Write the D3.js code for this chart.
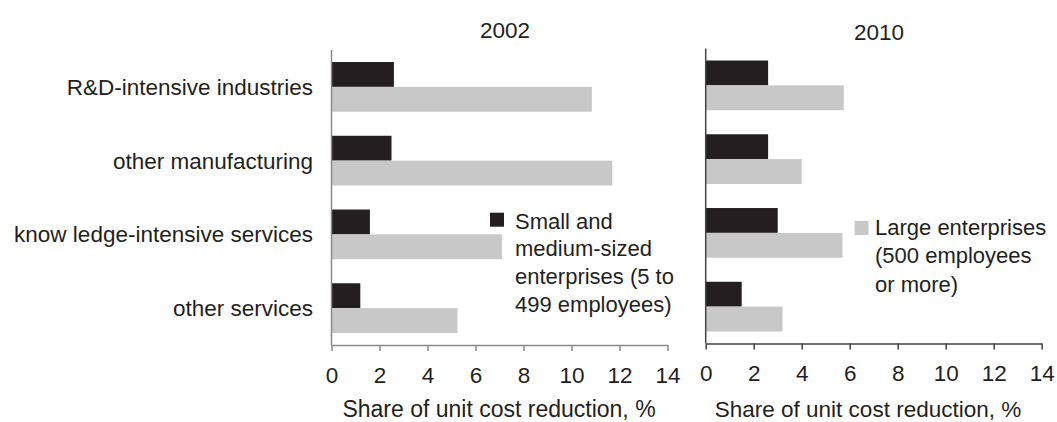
<!DOCTYPE html>
<html>
<head>
<meta charset="utf-8">
<script src="https://cdn.jsdelivr.net/npm/d3@7"></script>
<style>
  html, body { margin: 0; padding: 0; background: #fff; }
  svg { display: block; }
  text { font-family: "Liberation Sans", Arial, sans-serif; fill: #231f20; }
</style>
</head>
<body>
<svg id="chart" width="1057" height="422"></svg>
<script>
// ---- data ----
const categories = ["R&D-intensive industries", "other manufacturing", "know ledge-intensive services", "other services"];
const years = ["2002", "2010"];
const smeValues2002 = [2.6, 2.5, 1.6, 1.2];
const largeValues2002 = [10.85, 11.7, 7.1, 5.25];
const smeValues2010 = [2.6, 2.6, 3.0, 1.5];
const largeValues2010 = [5.75, 4.0, 5.7, 3.2];
const xTicks = [0, 2, 4, 6, 8, 10, 12, 14];
const seriesKeys = ["sme", "large"];
const legendSme = ["Small and", "medium-sized", "enterprises (5 to", "499 employees)"];
const legendLarge = ["Large enterprises", "(500 employees", "or more)"];
const axisTitle = "Share of unit cost reduction, %";

const colors = { sme: "#231f20", large: "#c8c8c9" };
const FS = 22.5;

const svg = d3.select("#chart");

const panels = [
  { year: years[0], sme: smeValues2002, large: largeValues2002, x0: 331.5, x1: 667.5, y0: 50, y1: 345, axisColor: "#8a8a8a", titleX: 505, titleY: 38, axTitleX: 499, axTitleFS: 23 },
  { year: years[1], sme: smeValues2010, large: largeValues2010, x0: 705.7, x1: 1041.7, y0: 48.5, y1: 343.5, axisColor: "#444", titleX: 879, titleY: 40, axTitleX: 868, axTitleFS: 22.5 }
];

panels.forEach((p, pi) => {
  const x = d3.scaleLinear().domain([0, 14]).range([p.x0, p.x1]);
  const y = d3.scaleBand().domain(categories).range([p.y0, p.y1]).paddingInner(0.326).paddingOuter(0.163);
  const ys = d3.scaleBand().domain(seriesKeys).range([0, y.bandwidth()]);

  const g = svg.append("g");

  const rows = categories.map((c, i) => ({ cat: c, sme: p.sme[i], large: p.large[i] }));
  const grp = g.selectAll("g.row").data(rows).join("g")
    .attr("transform", d => `translate(0,${y(d.cat)})`);
  grp.selectAll("rect").data(d => seriesKeys.map(k => ({ key: k, v: d[k] }))).join("rect")
    .attr("x", x(0))
    .attr("y", d => ys(d.key))
    .attr("width", d => x(d.v) - x(0))
    .attr("height", ys.bandwidth())
    .attr("fill", d => colors[d.key]);

  // vertical axis line
  g.append("line")
    .attr("x1", x(0)).attr("x2", x(0))
    .attr("y1", p.y0).attr("y2", p.y1)
    .attr("stroke", p.axisColor).attr("stroke-width", 1.5);

  // bottom axis
  const ax = g.append("g").attr("transform", `translate(0,${p.y1})`)
    .call(d3.axisBottom(x).tickValues(xTicks).tickFormat(d3.format("d")).tickSize(6).tickSizeOuter(0).tickPadding(16));
  ax.select(".domain").attr("stroke", p.axisColor).attr("stroke-width", 1.5);
  ax.selectAll(".tick line").attr("stroke", p.axisColor).attr("stroke-width", 1.5);
  ax.selectAll(".tick text").attr("font-size", FS).attr("fill", "#231f20")
    .attr("font-family", "Liberation Sans, Arial, sans-serif");

  // axis title
  g.append("text")
    .attr("x", p.axTitleX)
    .attr("y", 416.5)
    .attr("text-anchor", "middle")
    .attr("font-size", p.axTitleFS)
    .text(axisTitle);

  // panel title
  g.append("text")
    .attr("x", p.titleX).attr("y", p.titleY)
    .attr("text-anchor", "middle")
    .attr("font-size", FS)
    .text(p.year);

  // category labels (left panel only)
  if (pi === 0) {
    g.selectAll("text.cat").data(categories).join("text")
      .attr("class", "cat")
      .attr("x", 313)
      .attr("y", d => y(d) + y.bandwidth() / 2)
      .attr("dy", "0.35em")
      .attr("text-anchor", "end")
      .attr("font-size", FS)
      .text(d => d);
  }
});

// legends
function legend(xSq, ySq, key, lines, xText, baseline0, lineH) {
  svg.append("rect").attr("x", xSq).attr("y", ySq).attr("width", 14).attr("height", 14).attr("fill", colors[key]);
  svg.append("text").attr("font-size", 22)
    .selectAll("tspan").data(lines).join("tspan")
    .attr("x", xText).attr("y", (d, i) => baseline0 + i * lineH)
    .text(d => d);
}
legend(490, 212.7, "sme", legendSme, 515, 228.5, 27.7);
legend(854.5, 221, "large", legendLarge, 875, 235, 28.3);
</script>
</body>
</html>
